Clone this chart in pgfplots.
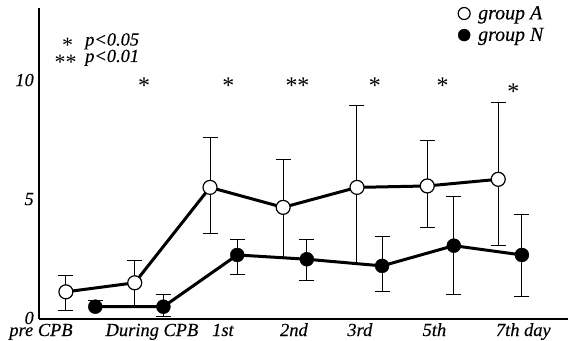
\documentclass[border=0pt]{standalone}
\usepackage{fontspec}
\setmainfont{Liberation Serif}[ItalicFeatures={FakeBold=0.3}]
\usepackage{pgfplots}
\pgfplotsset{compat=1.18}
\begin{document}
\begin{tikzpicture}
\begin{axis}[
  at={(39bp,22bp)}, anchor=south west,
  scale only axis, width=529bp, height=311bp,
  xmin=-0.565, xmax=6.813, ymin=-0.042, ymax=13.03,
  axis lines=left, axis line style={-, line width=1.2bp},
  xtick={-0.537,1.011,2.0,2.99,3.91,4.95,6.19},
  xticklabels={pre CPB, During CPB, 1st, 2nd, 3rd, 5th, 7th day},
  ytick={0,5,10},
  major tick length=0pt,
  /pgf/number format/assume math mode=true,
  tick label style={font=\fontsize{18.5}{20}\selectfont\itshape, inner sep=0pt},
  xticklabel style={anchor=base, yshift=-17bp, text height=11bp, text depth=3.5bp},
  yticklabel style={anchor=base east, xshift=-5bp, yshift=-6bp, text height=11.5bp, text depth=0bp},
  clip=false,
  legend style={draw=none, fill=none, at={(0.792,1.0129)}, anchor=north west,
    font=\fontsize{20}{21}\selectfont\itshape, row sep=3bp, column sep=6bp, inner sep=0pt},
  legend cell align=left,
  legend image post style={mark size=6bp},
]
% ---- error bars, group A
\addplot[only marks, mark=none, forget plot, error bars/.cd, y dir=both, y explicit,
  error bar style={line width=1bp}, error mark options={rotate=90, mark size=7.5bp, line width=1bp}]
  coordinates {
  (-0.19,1.10) += (0,0.70) -= (0,0.77)
  (1.82,5.49) += (0,2.10) -= (0,1.93)
  (4.85,5.55) += (0,1.90) -= (0,1.74)
  (5.84,5.83) += (0,3.22) -= (0,2.79)
  };
\addplot[only marks, mark=none, forget plot, error bars/.cd, y dir=plus, y explicit,
  error bar style={line width=1bp}, error mark options={rotate=90, mark size=7.5bp, line width=1bp}]
  coordinates {
  (0.77,1.48) +- (0,0.95)
  (2.84,4.65) +- (0,2.02)
  (3.87,5.49) +- (0,3.46)
  };
\addplot[only marks, mark=none, forget plot, error bars/.cd, y dir=minus, y explicit,
  error bar style={line width=1bp}, error mark=none]
  coordinates {
  (0.77,1.48) +- (0,1.06)
  (2.84,4.65) +- (0,2.07)
  (3.87,5.49) +- (0,3.19)
  };
% ---- error bars, group N
\addplot[only marks, mark=none, forget plot, error bars/.cd, y dir=both, y explicit,
  error bar style={line width=1bp}, error mark options={rotate=90, mark size=7.5bp, line width=1bp}]
  coordinates {
  (1.17,0.475) += (0,0.53) -= (0,0.43)
  (2.20,2.65) += (0,0.63) -= (0,0.81)
  (3.17,2.47) += (0,0.85) -= (0,0.91)
  (4.22,2.19) += (0,1.23) -= (0,1.08)
  (5.22,3.04) += (0,2.06) -= (0,2.07)
  (6.17,2.65) += (0,1.68) -= (0,1.75)
  };
\addplot[only marks, mark=none, forget plot, error bars/.cd, y dir=plus, y explicit,
  error bar style={line width=1bp}, error mark options={rotate=90, mark size=7.5bp, line width=1bp}]
  coordinates {
  (0.22,0.475) +- (0,0.28)
  };
% ---- lines
\addplot[black, line width=3bp, no marks, forget plot] coordinates {
  (-0.19,1.10) (0.77,1.48) (1.82,5.49) (2.84,4.65) (3.87,5.49) (4.85,5.55) (5.84,5.83)};
\addplot[black, line width=3bp, no marks, forget plot] coordinates {
  (0.22,0.475) (1.17,0.475) (2.20,2.65) (3.17,2.47) (4.22,2.19) (5.22,3.04) (6.17,2.65)};
% ---- markers
\addplot[only marks, mark=*, mark size=7bp, mark options={fill=white, draw=black, line width=1.2bp}]
  coordinates {
  (-0.19,1.10) (0.77,1.48) (1.82,5.49) (2.84,4.65) (3.87,5.49) (4.85,5.55) (5.84,5.83)};
\addlegendentry{group A}
\addplot[only marks, mark=*, mark size=7bp, mark options={fill=black, draw=black}]
  coordinates {
  (0.22,0.475) (1.17,0.475) (2.20,2.65) (3.17,2.47) (4.22,2.19) (5.22,3.04) (6.17,2.65)};
\addlegendentry{group N}
% ---- significance marks
\node[font=\fontsize{24}{24}\selectfont, anchor=base, inner sep=0pt] at (axis cs:0.90,9.44) {*};
\node[font=\fontsize{24}{24}\selectfont, anchor=base, inner sep=0pt] at (axis cs:2.075,9.44) {*};
\node[font=\fontsize{24}{24}\selectfont, anchor=base, inner sep=0pt] at (axis cs:3.04,9.44) {**};
\node[font=\fontsize{24}{24}\selectfont, anchor=base, inner sep=0pt] at (axis cs:4.12,9.44) {*};
\node[font=\fontsize{24}{24}\selectfont, anchor=base, inner sep=0pt] at (axis cs:5.065,9.44) {*};
\node[font=\fontsize{24}{24}\selectfont, anchor=base, inner sep=0pt] at (axis cs:6.05,9.19) {*};
\end{axis}
\node[font=\fontsize{22}{22}\selectfont, anchor=base, inner sep=0pt, text depth=0bp] at (67.5bp,288.7bp) {*};
\node[font=\fontsize{22}{22}\selectfont, anchor=base, inner sep=0pt, text depth=0bp] at (65.5bp,271.5bp) {**};
\node[font=\fontsize{18.5}{20}\selectfont\itshape, anchor=base west, inner sep=0pt, text height=12bp, text depth=3.5bp] at (85bp,295.5bp) {p<0.05};
\node[font=\fontsize{18.5}{20}\selectfont\itshape, anchor=base west, inner sep=0pt, text height=12bp, text depth=3.5bp] at (85bp,279bp) {p<0.01};
\pgfresetboundingbox
\useasboundingbox (0bp,0bp) rectangle (568bp,341bp);
\end{tikzpicture}
\end{document}
